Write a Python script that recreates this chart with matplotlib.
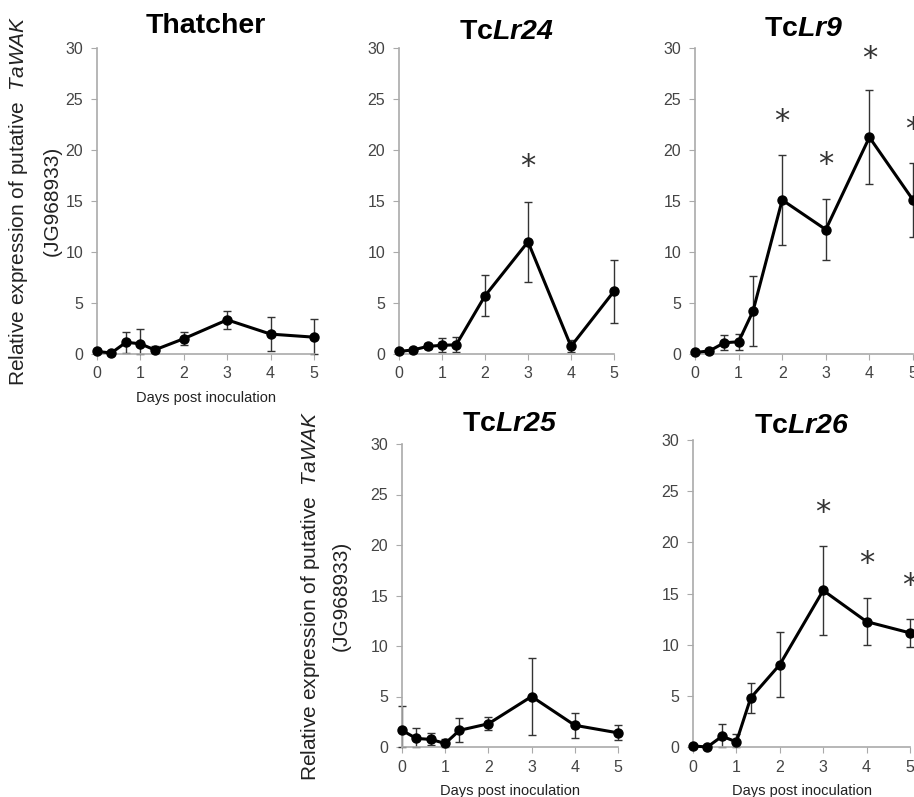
import numpy as np
import matplotlib.pyplot as plt

plt.rcParams['font.family'] = ['Liberation Sans', 'DejaVu Sans']
plt.rcParams['mathtext.fontset'] = 'custom'
plt.rcParams['mathtext.rm'] = 'Liberation Sans'
plt.rcParams['mathtext.it'] = 'Liberation Sans:italic'
plt.rcParams['mathtext.bf'] = 'Liberation Sans:bold'
plt.rcParams['mathtext.bfit'] = 'Liberation Sans:bold:italic'

days = [0, 0.33, 0.67, 1, 1.33, 2, 3, 4, 5]

thatcher = [0.25, 0.1, 1.15, 1.0, 0.4, 1.5, 3.35, 1.95, 1.65]
thatcher_err = [0.1, 0.1, 1.05, 1.5, 0.35, 0.65, 0.85, 1.65, 1.75]

lr24 = [0.25, 0.4, 0.75, 0.85, 0.9, 5.7, 11.0, 0.75, 6.15]
lr24_err = [0.1, 0.2, 0.3, 0.7, 0.75, 2.0, 3.9, 0.6, 3.1]

lr9 = [0.15, 0.3, 1.1, 1.2, 4.2, 15.1, 12.2, 21.25, 15.1]
lr9_err = [0.1, 0.1, 0.75, 0.8, 3.45, 4.45, 2.95, 4.6, 3.65]

lr25 = [1.65, 0.85, 0.75, 0.35, 1.65, 2.3, 5.0, 2.15, 1.4]
lr25_err = [2.45, 1.0, 0.6, 0.4, 1.2, 0.65, 3.8, 1.25, 0.75]

lr26 = [0.1, 0.0, 1.05, 0.5, 4.8, 8.05, 15.3, 12.25, 11.15]
lr26_err = [0.1, 0.05, 1.15, 0.8, 1.5, 3.15, 4.35, 2.3, 1.35]

# asterisk marks: (day, height)
stars_lr24 = [(3, 18.4)]
stars_lr9 = [(2, 22.8), (3, 18.6), (4, 29.0), (5, 22.0)]
stars_lr26 = [(3, 22.95), (4, 17.95), (5, 15.8)]

W, H = 914, 797
fig = plt.figure(figsize=(W / 100, H / 100), dpi=100)


def make_ax(x0, x1, ytop, ybot):
    return fig.add_axes([x0 / W, (H - ybot) / H, (x1 - x0) / W, (ybot - ytop) / H])


def panel(ax, vals, errs, title, title_px, stars=(), xlabel=False):
    vals = np.array(vals)
    errs = np.array(errs)
    lower = np.minimum(errs, vals)  # bars stop at the x axis
    ax.errorbar(days, vals, yerr=[lower, errs], fmt='none', ecolor='#333333',
                elinewidth=1, capsize=3, capthick=1, clip_on=False, zorder=2)
    ax.plot(days, vals, color='black', lw=2.2, marker='o', ms=6.5, clip_on=False, zorder=3)
    for d, h in stars:
        ax.text(d, h, '*', ha='center', va='center', fontsize=22, color='#333333',
                family='DejaVu Sans', clip_on=False)
    ax.set_xlim(0, 5)
    ax.set_ylim(0, 30)
    ax.set_xticks(range(6))
    ax.set_yticks(range(0, 31, 5))
    for s in ['top', 'right']:
        ax.spines[s].set_visible(False)
    for s in ['left', 'bottom']:
        ax.spines[s].set_color('#aaaaaa')
        ax.spines[s].set_linewidth(1.2)
    ax.tick_params(colors='#aaaaaa', labelcolor='#444444', labelsize=11.5, length=4)
    ax.tick_params(axis='x', pad=5)
    ax.tick_params(axis='y', pad=6)
    if xlabel:
        ax.set_xlabel('Days post inoculation', fontsize=10.5, color='#222222', labelpad=7)
    bb = ax.get_position()
    fig.text(bb.x0 + bb.width / 2, (H - title_px) / H, title, ha='center', va='center',
             fontsize=20.5, fontweight='bold')


ax1 = make_ax(97, 314, 48, 354)
panel(ax1, thatcher, thatcher_err, 'Thatcher', 26, xlabel=True)
ax2 = make_ax(399, 614, 48, 354)
panel(ax2, lr24, lr24_err, r'Tc$\mathbfit{Lr24}$', 32, stars_lr24)
ax3 = make_ax(695, 913, 48, 354)
panel(ax3, lr9, lr9_err, r'Tc$\mathbfit{Lr9}$', 29, stars_lr9)
ax4 = make_ax(402, 618, 444, 747)
panel(ax4, lr25, lr25_err, r'Tc$\mathbfit{Lr25}$', 424, xlabel=True)
ax5 = make_ax(693, 910, 440, 747)
panel(ax5, lr26, lr26_err, r'Tc$\mathbfit{Lr26}$', 426, stars_lr26, xlabel=True)

# y axis labels, two lines each
for xl1, xl2, yc in [(19, 52, 201), (311, 341, 596)]:
    fig.text(xl1 / W, (H - yc) / H, r'Relative expression of putative  $\mathit{TaWAK}$',
             rotation=90, ha='center', va='center', fontsize=15, color='#222222')
    fig.text(xl2 / W, (H - yc) / H, '(JG968933)', rotation=90, ha='center',
             va='center', fontsize=15, color='#222222')

fig.savefig('out.png', dpi=100)
